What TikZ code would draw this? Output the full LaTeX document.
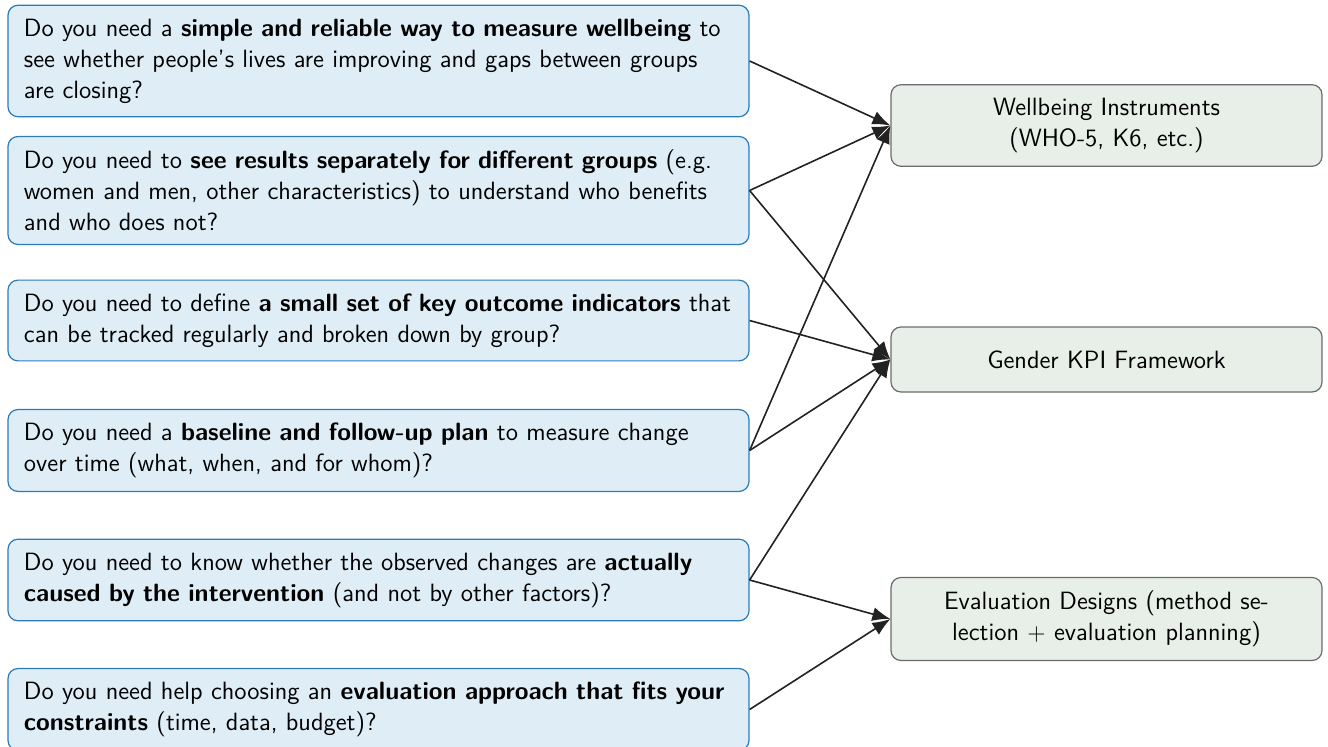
\documentclass[tikz,border=0pt]{standalone}
\usetikzlibrary{positioning, arrows.meta}

\definecolor{qfill}{HTML}{DFEEF6}
\definecolor{qdraw}{HTML}{2B7BB9}
\definecolor{tfill}{HTML}{E7EFE8}
\definecolor{tdraw}{HTML}{6B6B6B}
\definecolor{edgecol}{HTML}{222222}

\tikzset{
  question/.style={draw=qdraw, fill=qfill, line width=0.6pt, rounded corners=5pt,
    text width=354.5pt, inner xsep=8pt, inner ysep=6.75pt,
    font=\sffamily\fontsize{12.5}{15.5}\selectfont},
  tool/.style={draw=tdraw, fill=tfill, line width=0.6pt, rounded corners=5pt,
    text width=199.5pt, inner xsep=8pt, inner ysep=6.75pt, minimum height=32.5pt, align=center,
    font=\sffamily\fontsize{12.5}{15.5}\selectfont},
  link/.style={draw=edgecol, line width=0.8pt, -{Latex[length=9pt,width=7pt]}}
}

\begin{document}
\begin{tikzpicture}[x=0.5pt, y=-0.5pt]
    \useasboundingbox (0,0) rectangle (1328,747);
    % questions on the left
    \node [question] (q1) at (378.5,61) {Do you need a \textbf{simple and reliable way to measure wellbeing} to\\ see whether people's lives are improving and gaps between groups\\ are closing?};
    \node [question] (q2) at (378.5,190.5) {Do you need to \textbf{see results separately for different groups} (e.g.\\ women and men, other characteristics) to understand who benefits\\ and who does not?};
    \node [question] (q3) at (378.5,320.5) {Do you need to define \textbf{a small set of key outcome indicators} that\\ can be tracked regularly and broken down by group?};
    \node [question] (q4) at (378.5,450.5) {Do you need a \textbf{baseline and follow-up plan} to measure change\\ over time (what, when, and for whom)?};
    \node [question] (q5) at (378.5,580) {Do you need to know whether the observed changes are \textbf{actually}\\ \textbf{caused by the intervention} (and not by other factors)?};
    \node [question] (q6) at (378.5,709.5) {Do you need help choosing an \textbf{evaluation approach that fits your}\\ \textbf{constraints} (time, data, budget)?};
    % tools on the right
    \node [tool] (wb) at (1106.5,125.5) {Wellbeing Instruments\\ (WHO-5, K6, etc.)};
    \node [tool] (kpi) at (1106.5,359.5) {Gender KPI Framework};
    \node [tool] (eval) at (1106.5,619) {Evaluation Designs (method se-\\ lection $+$ evaluation planning)};
    % links
    \draw [link] (q1.east) -- (wb.west);
    \draw [link] (q2.east) -- (wb.west);
    \draw [link] (q2.east) -- (kpi.west);
    \draw [link] (q3.east) -- (kpi.west);
    \draw [link] (q4.east) -- (wb.west);
    \draw [link] (q4.east) -- (kpi.west);
    \draw [link] (q5.east) -- (kpi.west);
    \draw [link] (q5.east) -- (eval.west);
    \draw [link] (q6.east) -- (eval.west);
\end{tikzpicture}
\end{document}
